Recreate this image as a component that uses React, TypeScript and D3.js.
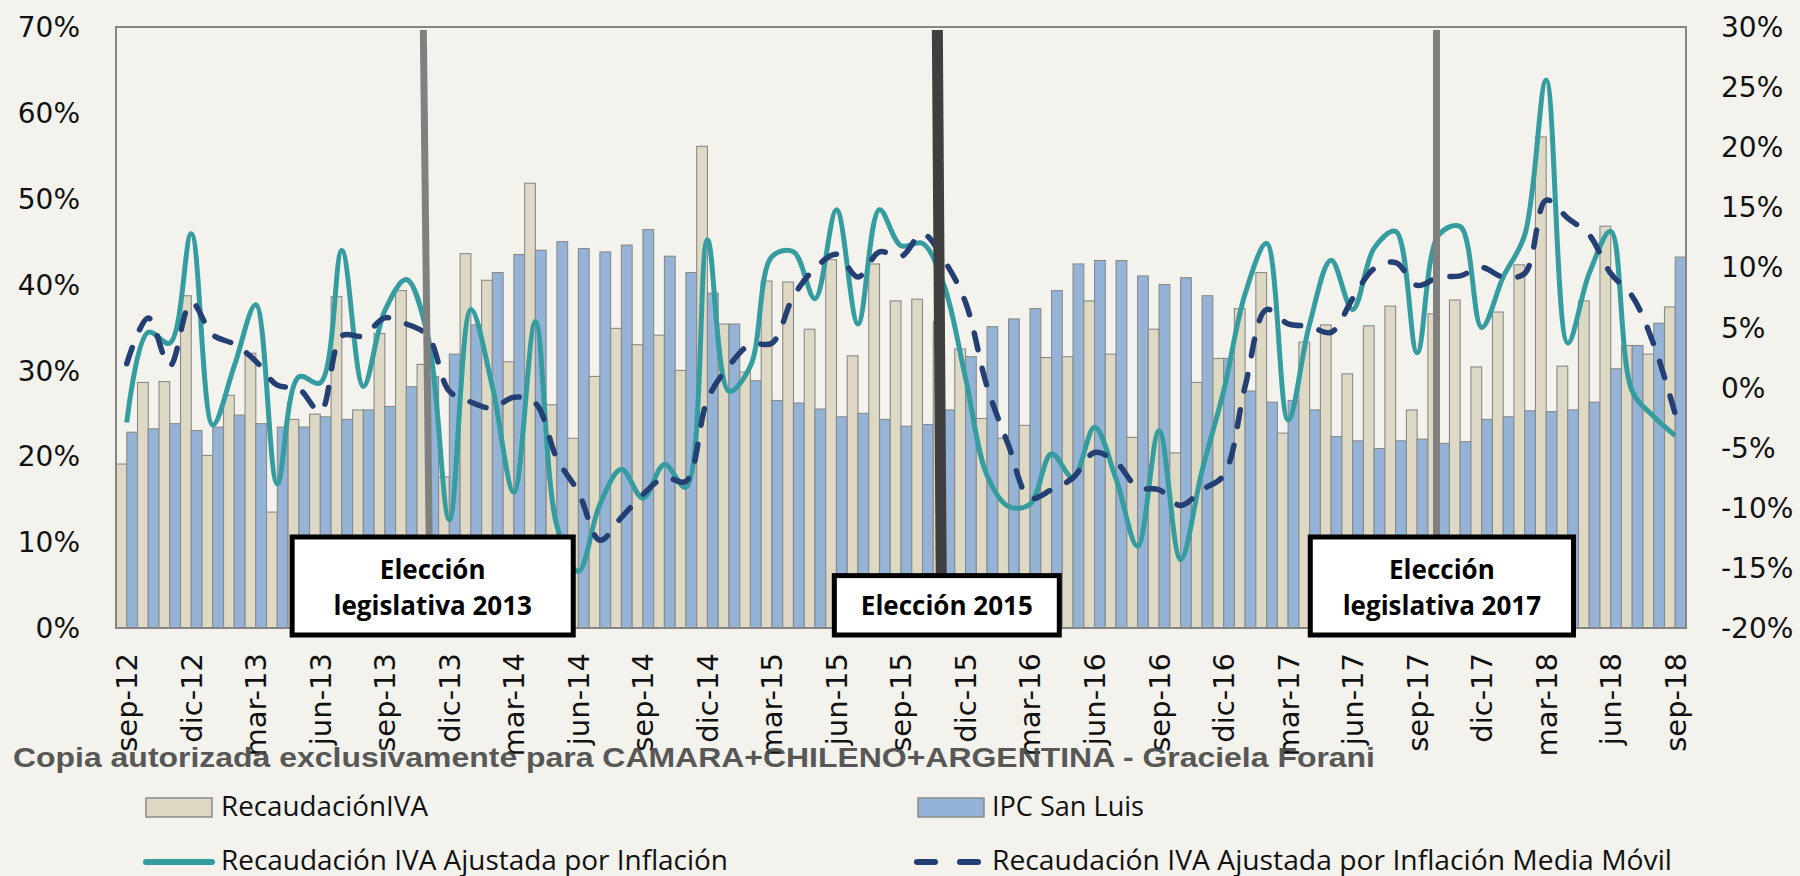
import React from 'react';
import * as d3 from 'd3';

// month categories, sep-12 .. sep-18
const MONTH_NAMES = ['ene', 'feb', 'mar', 'abr', 'may', 'jun', 'jul', 'ago', 'sep', 'oct', 'nov', 'dic'];
const categories: string[] = [];
for (let k = 0; k < 73; k++) {
  const m = (8 + k) % 12;
  const yy = 12 + Math.floor((8 + k) / 12);
  categories.push(`${MONTH_NAMES[m]}-${yy}`);
}

// left axis (%)
const recaudacionIVA = [
  19.1, 28.6, 28.7, 38.7, 20.1, 27.1, 32.0, 13.5, 24.3, 24.9, 38.6, 25.4, 34.3, 39.3, 30.7, 17.6,
  43.6, 40.5, 31.0, 51.8, 26.0, 22.1, 29.3, 34.9, 33.0, 34.1, 30.0, 56.1, 35.4, 29.8, 40.4, 40.3,
  34.8, 42.9, 31.7, 42.4, 38.1, 38.3, 35.7, 32.5, 24.4, 22.1, 23.6, 31.5, 31.6, 38.1, 31.9, 22.2,
  34.8, 20.4, 28.6, 31.4, 37.2, 41.4, 22.7, 33.3, 35.3, 29.6, 35.2, 37.5, 25.4, 36.6, 38.2, 30.4,
  36.8, 42.3, 57.2, 30.5, 38.1, 46.8, 32.9, 31.9, 37.4,
];
const ipcSanLuis = [
  22.8, 23.2, 23.8, 23.0, 23.4, 24.8, 23.8, 23.4, 23.4, 24.6, 24.3, 25.4, 25.8, 28.1, 29.3, 31.9,
  35.3, 41.4, 43.5, 44.0, 45.0, 44.2, 43.8, 44.6, 46.4, 43.3, 41.4, 39.0, 35.4, 28.8, 26.5, 26.2,
  25.5, 24.6, 25.0, 24.3, 23.5, 23.7, 25.4, 31.6, 35.1, 36.0, 37.2, 39.3, 42.4, 42.8, 42.8, 41.0,
  40.0, 40.8, 38.7, 31.4, 27.6, 26.3, 26.5, 25.4, 22.3, 21.8, 20.9, 21.8, 22.0, 21.5, 21.7, 24.3,
  24.6, 25.3, 25.2, 25.4, 26.3, 30.2, 32.9, 35.5, 43.2,
];

// right axis (%)
const ajustadaInflacion = [
  -2.9, 4.6, 3.7, 12.8, -3.1, 1.8, 6.9, -8.0, 0.9, 0.4, 11.4, 0.1, 6.4, 9.0, 4.3, -11.0,
  6.5, 0.1, -8.7, 5.5, -11.5, -15.3, -9.7, -6.8, -9.2, -6.4, -8.3, 12.3, -0.3, 1.8, 10.9, 11.3,
  7.4, 14.8, 5.3, 14.8, 11.8, 12.0, 8.5, 0.8, -7.3, -9.9, -9.7, -5.5, -7.5, -3.3, -7.6, -13.2,
  -3.6, -14.3, -6.9, -0.3, 7.8, 12.0, -2.7, 5.3, 10.6, 6.5, 11.6, 13.0, 2.9, 12.7, 13.4, 5.0,
  9.2, 12.7, 25.6, 3.7, 9.5, 13.0, -0.3, -2.4, -4.0,
];
const mediaMovil = [
  2.0, 5.8, 1.8, 7.1, 4.4, 3.6, 2.2, 0.2, -0.1, -2.0, 4.3, 4.3, 5.8, 5.3, 4.3, -0.3,
  -1.2, -1.7, -0.8, -1.3, -5.9, -8.7, -12.7, -10.8, -8.9, -7.5, -7.8, -1.0, 1.8, 3.6, 3.7, 7.6,
  9.9, 11.1, 9.2, 11.3, 10.9, 12.8, 10.6, 7.1, 0.1, -4.8, -9.2, -8.5, -7.5, -5.4, -6.2, -8.3,
  -8.5, -9.8, -8.5, -7.3, 0.1, 6.5, 5.3, 5.1, 4.6, 7.4, 9.9, 10.4, 8.5, 9.2, 9.3, 10.0,
  9.2, 9.5, 15.6, 14.1, 12.7, 9.5, 7.6, 3.6, -2.2,
];

const leftTicks = [0, 10, 20, 30, 40, 50, 60, 70];
const rightTicks = [-20, -15, -10, -5, 0, 5, 10, 15, 20, 25, 30];

// election markers: month index (top / bottom of the line), box span in month index
const elections = [
  { lines: ['Elección', 'legislativa 2013'], top: 14.29, bottom: 14.56, color: '#808080', width: 7, box: [8.19, 21.26], boxTop: 10.6 },
  { lines: ['Elección 2015'], top: 38.19, bottom: 38.37, color: '#3f3f3f', width: 11, box: [33.4, 43.86], boxTop: 6.1 },
  { lines: ['Elección', 'legislativa 2017'], top: 61.4, bottom: 61.4, color: '#808080', width: 7, box: [55.53, 67.77], boxTop: 10.6 },
];

const W = 1800;
const H = 876;
const margin = { top: 27, right: 114, bottom: 248, left: 116 };
const BG = '#f3f2ed';
const BEIGE = '#ddd9c4';
const BLUE = '#95b3d7';
const TEAL = '#359da0';
const NAVY = '#243f74';
const AXIS_FONT = "'DejaVu Sans', Verdana, sans-serif";

const App: React.FC = () => {
  const plotW = W - margin.left - margin.right;
  const plotH = H - margin.top - margin.bottom;
  const x = d3.scaleBand().domain(categories).range([margin.left, margin.left + plotW]).padding(0);
  const xi = d3.scaleLinear().domain([0, categories.length]).range([margin.left, margin.left + plotW]);
  const yL = d3.scaleLinear().domain([0, 70]).range([margin.top + plotH, margin.top]);
  const yR = d3.scaleLinear().domain([-20, 30]).range([margin.top + plotH, margin.top]);
  const bw = x.bandwidth();

  const line = (vals: number[]) =>
    d3.line<number>()
      .x((_, i) => (x(categories[i]) as number) + bw / 2)
      .y(d => yR(d))
      .curve(d3.curveCatmullRom.alpha(0.5))(vals) || '';

  return (
    <svg width={W} height={H} style={{ position: 'absolute', left: 0, top: 0, background: BG }}>
      <rect x={0} y={0} width={W} height={H} fill={BG} />

      {/* bars */}
      {categories.map((c, i) => (
        <g key={c}>
          <rect x={x(c)} y={yL(recaudacionIVA[i])} width={bw / 2} height={yL(0) - yL(recaudacionIVA[i])}
            fill={BEIGE} stroke="#8a8a8a" strokeWidth={1.1} />
          <rect x={(x(c) as number) + bw / 2} y={yL(ipcSanLuis[i])} width={bw / 2} height={yL(0) - yL(ipcSanLuis[i])}
            fill={BLUE} stroke="#8a8a8a" strokeWidth={1.1} />
        </g>
      ))}

      {/* frame */}
      <rect x={margin.left} y={margin.top} width={plotW} height={plotH} fill="none" stroke="#868686" strokeWidth={2} />

      {/* lines */}
      <path d={line(ajustadaInflacion)} fill="none" stroke={TEAL} strokeWidth={5} strokeLinejoin="round" />
      <path d={line(mediaMovil)} fill="none" stroke={NAVY} strokeWidth={5.5} strokeDasharray="17 19" strokeLinecap="round" />

      {/* election markers */}
      {elections.map(e => (
        <line key={e.lines.join()} x1={xi(e.top)} x2={xi(e.bottom)} y1={margin.top + 3} y2={yL(e.boxTop)}
          stroke={e.color} strokeWidth={e.width} />
      ))}
      {elections.map(e => {
        const bx0 = xi(e.box[0]);
        const bx1 = xi(e.box[1]);
        const by0 = yL(e.boxTop);
        const by1 = margin.top + plotH + 7;
        const cx = (bx0 + bx1) / 2;
        return (
          <g key={'b' + e.lines.join()}>
            <rect x={bx0} y={by0} width={bx1 - bx0} height={by1 - by0} fill="#fff" stroke="#000" strokeWidth={5} />
            {e.lines.map((t, k) => (
              <text key={t} x={cx} y={615 - (e.lines.length - 1 - k) * 36} textAnchor="middle"
                fontFamily="'Open Sans', sans-serif" fontWeight="bold" fontSize={26} fill="#000">{t}</text>
            ))}
          </g>
        );
      })}

      {/* left axis labels */}
      {leftTicks.map(t => (
        <text key={'l' + t} x={80} y={yL(t)} dy="0.36em" textAnchor="end" fontFamily={AXIS_FONT} fontSize={28} fill="#111">{t}%</text>
      ))}
      {/* right axis labels */}
      {rightTicks.map(t => (
        <text key={'r' + t} x={1721} y={yR(t)} dy="0.36em" textAnchor="start" fontFamily={AXIS_FONT} fontSize={28} fill="#111">{t}%</text>
      ))}
      {/* x labels */}
      {categories.filter((_, i) => i % 3 === 0).map(c => (
        <text key={'x' + c} transform={`translate(${(x(c) as number) + bw / 2},653) rotate(-90)`} dy="0.36em"
          textAnchor="end" fontFamily={AXIS_FONT} fontSize={29} fill="#111">{c}</text>
      ))}

      {/* watermark */}
      <text x={13} y={767} fontFamily="'Liberation Sans', Arial, sans-serif" fontWeight="bold" fontSize={28}
        fill="#4a4a4a" opacity={0.92} textLength={1362} lengthAdjust="spacingAndGlyphs">
        Copia autorizada exclusivamente para CAMARA+CHILENO+ARGENTINA - Graciela Forani
      </text>

      {/* legend */}
      <g fontFamily="'Open Sans', sans-serif" fontSize={27} fill="#111">
        <rect x={146} y={798} width={66} height={19} fill={BEIGE} stroke="#8a8a8a" strokeWidth={1.5} />
        <text x={221} y={816} textLength={207} lengthAdjust="spacingAndGlyphs">RecaudaciónIVA</text>
        <rect x={918} y={798} width={66} height={19} fill={BLUE} stroke="#8a8a8a" strokeWidth={1.5} />
        <text x={992} y={816} textLength={152} lengthAdjust="spacingAndGlyphs">IPC San Luis</text>
        <line x1={146} x2={212} y1={862} y2={862} stroke={TEAL} strokeWidth={6} strokeLinecap="round" />
        <text x={221} y={870} textLength={507} lengthAdjust="spacingAndGlyphs">Recaudación IVA Ajustada por Inflación</text>
        <line x1={917} x2={935} y1={862} y2={862} stroke={NAVY} strokeWidth={6} strokeLinecap="round" />
        <line x1={960} x2={978} y1={862} y2={862} stroke={NAVY} strokeWidth={6} strokeLinecap="round" />
        <text x={992} y={870} textLength={680} lengthAdjust="spacingAndGlyphs">Recaudación IVA Ajustada por Inflación Media Móvil</text>
      </g>
    </svg>
  );
};

export default App;
